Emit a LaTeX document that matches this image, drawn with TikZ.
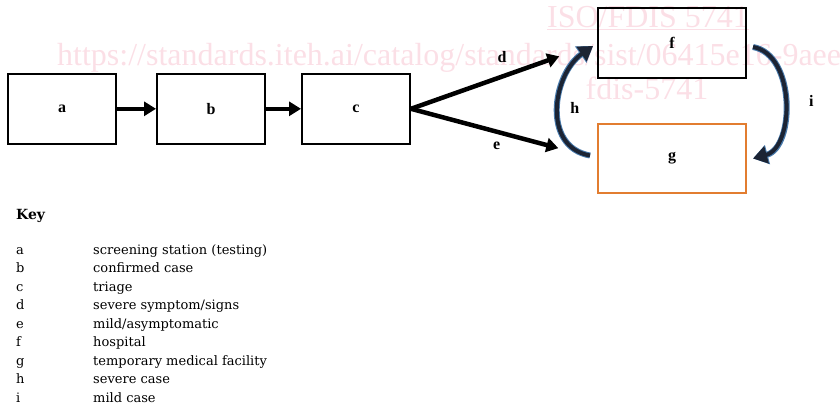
\documentclass[tikz,border=0pt]{standalone}
\usepackage{fontspec}
\setmainfont{Liberation Serif}
\newfontfamily\keyfont{DejaVu Serif}
\usetikzlibrary{positioning,arrows.meta}

\definecolor{boxorange}{RGB}{226,125,48}
\definecolor{stamppink}{RGB}{251,223,230}
\definecolor{turndark}{RGB}{28,36,52}
\definecolor{turnblue}{RGB}{72,122,172}

\tikzset{
  stage/.style={draw,line width=2.4pt,minimum width=107.6pt,minimum height=70pt,
    font=\fontsize{16}{16}\selectfont\bfseries},
  tag/.style={font=\fontsize{16}{16}\selectfont\bfseries},
  flow/.style={line width=4.5pt,-{Triangle[length=12pt,width=14pt]}},
  turn/.style={line width=4pt,draw=turndark,-{Triangle[length=14pt,width=17pt]},
    preaction={draw=turnblue,line width=6pt,-{Triangle[length=15pt,width=19pt]}}},
  stamp/.style={text=stamppink,font=\fontsize{32}{32}\selectfont,inner sep=0pt},
  keyrow/.style={anchor=base west,inner sep=0pt,font=\keyfont\fontsize{13}{15}\selectfont}
}

\begin{document}
\begin{tikzpicture}[x=1pt,y=-1pt]
\useasboundingbox (0,0) rectangle (840,410);

% watermark behind everything
\node[stamp,anchor=base] (iso) at (648,27) {\underline{ISO/FDIS 5741}};
\node[stamp,anchor=base west] (url) at (57,65) {https://standards.iteh.ai/catalog/standards/sist/06415e16-9aee-};
\node[stamp,anchor=base] (fdis) at (647,99) {fdis-5741};

% stages
\node[stage] (a) at (62,108.8) {a};
\node[stage,right=39pt of a] (b) {b};
\node[stage,right=35pt of b] (c) {c};
\node[stage,minimum width=147.6pt,minimum height=69.6pt] (f) at (672,43) {f};
\node[stage,draw=boxorange,minimum width=147.6pt,minimum height=68.6pt,below=44pt of f] (g) {g};

\draw[flow] (a) -- (b);
\draw[flow] (b) -- (c);
\draw[flow,shorten >=40pt] (c.east) -- (f.west) node[tag,pos=0.49,above=8pt] (d) {d};
\draw[flow,shorten >=40pt] (c.east) -- (g.west) node[tag,pos=0.46,below=5pt] (e) {e};

% transfers between f and g
\draw[turn] ([shift={(-7,-3)}]g.west) to[out=170,in=215,looseness=1.15]
  node[tag,right=7pt] (h) {h} ([shift={(-4,3)}]f.west);
\draw[turn] ([shift={(6,4)}]f.east) to[out=-10,in=15]
  node[tag,right=19pt] (i) {i} ([shift={(6,0)}]g.east);

% key
\node[keyrow,font=\keyfont\fontsize{14}{16}\selectfont\bfseries] (key) at (16,219) {Key};
\foreach \l/\t [count=\n] in {a/{screening station (testing)},b/{confirmed case},c/{triage},
  d/{severe symptom/signs},e/{mild/asymptomatic},f/{hospital},g/{temporary medical facility},
  h/{severe case},i/{mild case}}{
  \node[keyrow] (k\l) at (16,{254+(\n-1)*18.5}) {\l};
  \node[keyrow] (t\l) at (93,{254+(\n-1)*18.5}) {\t};
}
\end{tikzpicture}
\end{document}
